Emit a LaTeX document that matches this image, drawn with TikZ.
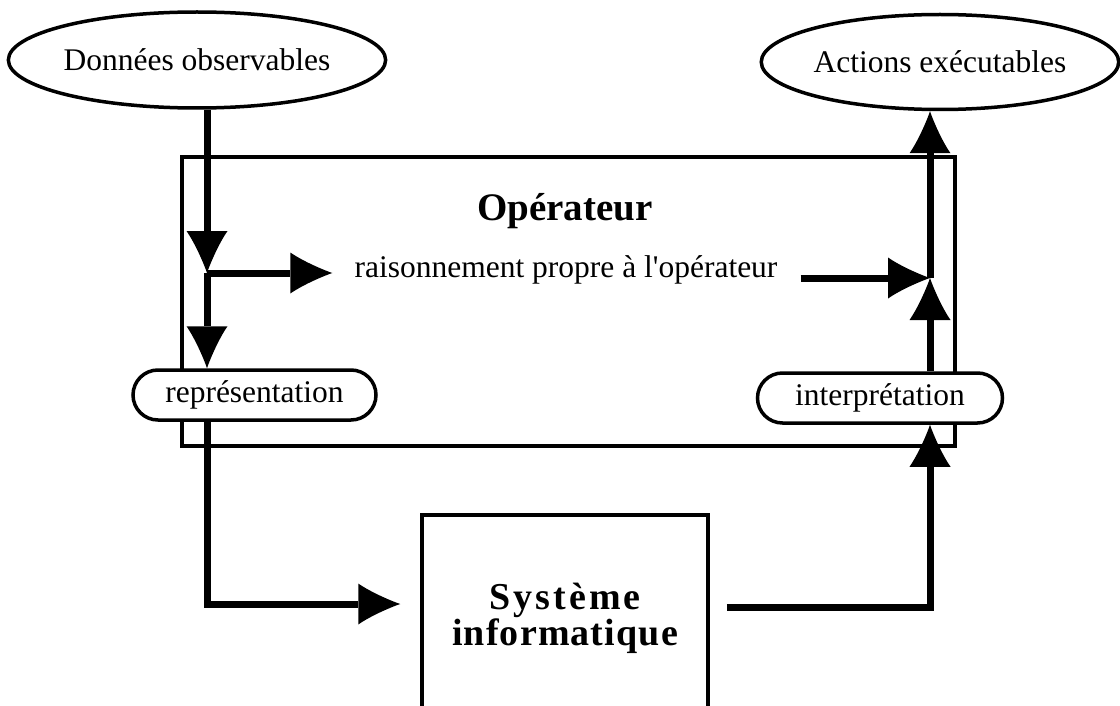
\documentclass[tikz,border=0pt]{standalone}
\usepackage{fontspec}
\setmainfont{Liberation Serif}
\usepackage{tikz}
\usetikzlibrary{arrows.meta,shapes.geometric}

\tikzset{
  fleche/.style={line width=7pt, -{Latex[length=42pt, width=41pt, line width=0pt]}},
  bulle/.style={ellipse, draw, line width=3.5pt, inner sep=0pt, font=\fontsize{31.5}{36}\selectfont},
  etape/.style={draw, fill=white, line width=3.5pt, rounded corners=25pt, minimum height=50pt, font=\fontsize{31.5}{36}\selectfont},
  texte/.style={inner sep=0pt, font=\fontsize{31.5}{36}\selectfont}
}

\begin{document}
\begin{tikzpicture}[x=1pt, y=-1pt]
	\useasboundingbox (0,0) rectangle (1120,706);
	\clip (0,0) rectangle (1120,706);
	
	% Entree et sortie
	\node[bulle, minimum width=370pt, minimum height=96pt] (donnees) at (197,60) {Données observables};
	\node[bulle, minimum width=356pt, minimum height=95pt] (actions) at (940,62) {Actions exécutables};
	
	% Cadre de l'operateur
	\node[draw, line width=3.5pt, minimum width=773pt, minimum height=289pt] (oper) at (568.5,301.5) {};
	\node[anchor=base, inner sep=0pt, font=\fontsize{39}{44}\selectfont\bfseries] (titre) at (565,220) {Opérateur};
	\node[texte, anchor=base] (raison) at (566,277) {raisonnement propre à l\textquotesingle opérateur};
	\node[etape, minimum width=243pt] (repr) at (254.5,395) {représentation};
	\node[etape, minimum width=245pt] (interp) at (880,398) {interprétation};
	
	% Systeme (coupe en bas)
	\node[draw, line width=3.5pt, minimum width=286pt, minimum height=206pt, align=center,
	      font=\fontsize{38}{36}\selectfont\bfseries] (sys) at (565,618)
	      {{\addfontfeature{LetterSpace=8}Système}\\{\addfontfeature{LetterSpace=3}informatique}};
	
	% Points de jonction
	\coordinate (j1) at (207,273);
	\coordinate (j2) at (930,278);
	\coordinate (c1) at (207,604);
	\coordinate (c2) at (930,607);
	
	% Cote gauche
	\draw[fleche] (j1 |- donnees.south) -- (j1);
	\draw[fleche, shorten >=22pt] (j1) -- (j1 -| raison.west);
	\draw[fleche] (j1) -- (j1 |- repr.north);
	\draw[fleche, shorten >=20pt] (c1 |- repr.south) -- (c1) -- (c1 -| sys.west);
	
	% Cote droit
	\draw[fleche, shorten <=17pt] (c2 -| sys.east) -- (c2) -- (c2 |- interp.south);
	\draw[fleche] (j2 |- interp.north) -- (j2);
	\draw[fleche, shorten <=23pt] (raison.east |- j2) -- (j2);
	\draw[fleche] (j2) -- (j2 |- actions.south);
	
\end{tikzpicture}
\end{document}
